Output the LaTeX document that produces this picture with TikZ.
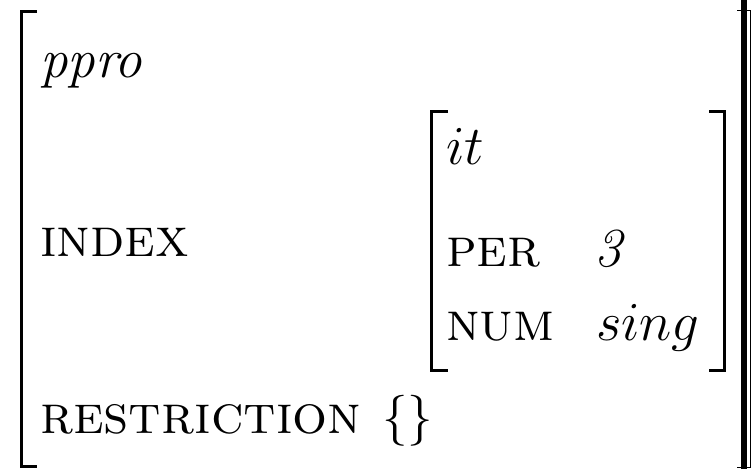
\RequirePackage{fix-cm}
\documentclass[tikz,border=0pt]{standalone}
\begin{document}
\begin{tikzpicture}[x=1pt,y=-1pt,
  lbl/.style={anchor=base west,inner sep=0pt,outer sep=0pt,font=\fontsize{55}{66}\selectfont},
  brk/.style={line width=3pt,line cap=butt,line join=miter},
  thinbrk/.style={line width=1.6pt,line join=miter}]
\useasboundingbox (0,0) rectangle (755,469);
% outer left bracket
\draw[brk] (37,11.5) -- (21,11.5) -- (21,466.5) -- (37,466.5);
% outer right bracket
\draw[thinbrk] (737,10.5) -- (750.5,10.5) -- (750.5,467.5) -- (737,467.5);
\draw[line width=6pt] (744,0) -- (744,469);
% inner brackets
\draw[brk] (448,111.5) -- (431.5,111.5) -- (431.5,370.5) -- (448,370.5);
\draw[brk] (709,111.5) -- (724.5,111.5) -- (724.5,370.5) -- (709,370.5);
% texts
\node[lbl] (ppro) at (40,77) {\textit{ppro}};
\node[lbl] (index) at (40,256) {\textsc{index}};
\node[lbl] (restr) at (40,433) {\textsc{restriction}};
\node[lbl,font=\fontsize{51}{60}\selectfont] (empty) at (382,433) {$\{\}$};
\node[lbl] (it) at (446,164) {$it$};
\node[lbl] (per) at (446,266) {\textsc{per}};
\node[lbl] (three) at (594,266) {\textit{3}};
\node[lbl] (num) at (446,340) {\textsc{num}};
\node[lbl] (sing) at (596,340) {$sing$};
\end{tikzpicture}
\end{document}
